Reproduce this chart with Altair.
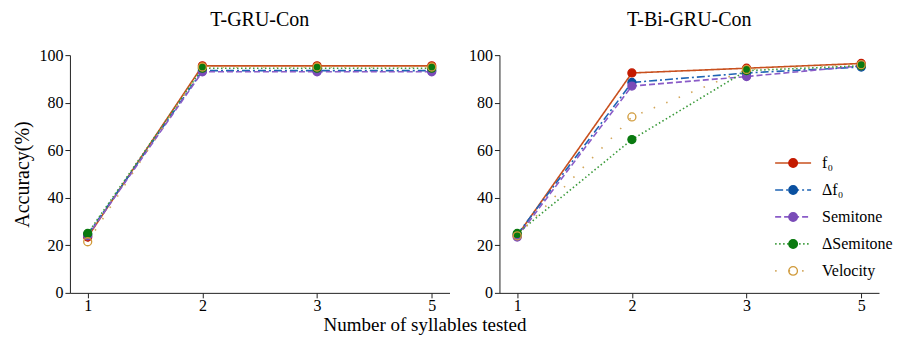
import altair as alt
import pandas as pd

series = ["f₀", "Δf₀", "Semitone", "ΔSemitone", "Velocity"]
keys = ["k0", "k1", "k2", "k3", "k4"]
syllables = ["1", "2", "3", "5"]

# T-GRU-Con
gru_f0 = [23.5, 95.5, 95.5, 95.5]
gru_df0 = [24.5, 93.5, 93.5, 93.5]
gru_semi = [24.0, 93.0, 93.0, 93.0]
gru_dsemi = [25.0, 94.5, 94.5, 94.5]
gru_vel = [21.5, 95.0, 95.0, 95.0]

# T-Bi-GRU-Con
bi_f0 = [24.0, 92.5, 94.5, 96.5]
bi_df0 = [24.5, 88.5, 92.5, 95.0]
bi_semi = [23.5, 87.0, 91.0, 95.5]
bi_dsemi = [25.0, 64.5, 93.5, 95.5]
bi_vel = [24.0, 74.0, 94.0, 96.0]

line_colors = ["#c8501e", "#1f64b4", "#8a5cc8", "#3a9a3a", "#d2a65a"]
marker_fill = ["#c41a00", "#0a50a0", "#7a4cb8", "#0a7a10", "transparent"]
marker_stroke = ["#c41a00", "#0a50a0", "#7a4cb8", "#0a7a10", "#d09a3a"]
dashes = [[1, 0], [8, 3, 2, 3], [6, 3], [1.5, 2.5], [1.5, 12]]

FONT = "Times New Roman, Liberation Serif, serif"


def make_df(values):
    rows = []
    for s, k, vals in zip(series, keys, values):
        for x, v in zip(syllables, vals):
            rows.append({"series": s, "key": k, "syll": x, "acc": v})
    return pd.DataFrame(rows)


df_gru = make_df([gru_f0, gru_df0, gru_semi, gru_dsemi, gru_vel])
df_bi = make_df([bi_f0, bi_df0, bi_semi, bi_dsemi, bi_vel])

CIRCLE = "M-0.24,0A0.24,0.24,0,1,1,0.24,0A0.24,0.24,0,1,1,-0.24,0Z"


def panel(df, title, show_ytitle, show_legend):
    base = alt.Chart(df).encode(
        x=alt.X("syll:O", sort=syllables,
                scale=alt.Scale(type="point", padding=0.155),
                axis=alt.Axis(title=None, labelAngle=0, labelPadding=0)),
        y=alt.Y("acc:Q", scale=alt.Scale(domain=[0, 100]),
                axis=alt.Axis(title="Accuracy(%)" if show_ytitle else None,
                              values=[0, 20, 40, 60, 80, 100])),
    )
    if show_legend:
        leg1 = alt.Legend(title=None, orient="none", legendX=275, legendY=89, padding=0,
                          symbolSize=1296, symbolStrokeWidth=1.7,
                          labelFont=FONT, labelFontSize=16, labelColor="black",
                          rowPadding=-11.7, labelOffset=10)
        leg2 = alt.Legend(title=None, orient="none", legendX=275, legendY=89, padding=0,
                          symbolType=CIRCLE, symbolSize=1296, symbolStrokeWidth=1.3,
                          labelFont=FONT, labelFontSize=16, labelExpr="''",
                          rowPadding=-11.7, labelOffset=10)
    else:
        leg1 = None
        leg2 = None
    lines = base.mark_line(strokeWidth=1.6).encode(
        color=alt.Color("series:N", sort=series,
                        scale=alt.Scale(domain=series, range=line_colors), legend=leg1),
        strokeDash=alt.StrokeDash("series:N", sort=series,
                                  scale=alt.Scale(domain=series, range=dashes), legend=leg1),
    )
    points = base.mark_point(filled=True, size=64, strokeWidth=1.3, opacity=1).encode(
        fill=alt.Fill("key:N", scale=alt.Scale(domain=keys, range=marker_fill), legend=leg2),
        stroke=alt.Stroke("key:N", scale=alt.Scale(domain=keys, range=marker_stroke), legend=leg2),
    )
    return alt.layer(lines, points).properties(
        width=380, height=238,
        title=alt.TitleParams(title, font=FONT, fontSize=20, fontWeight="normal",
                              color="black", offset=17),
    )


left = panel(df_gru, "T-GRU-Con", True, False)
right = panel(df_bi, "T-Bi-GRU-Con", False, True)

chart = alt.hconcat(left, right, spacing=19).resolve_scale(
    color="independent", strokeDash="independent", fill="independent", stroke="independent"
).properties(
    title=alt.TitleParams("Number of syllables tested", orient="bottom", anchor="middle",
                          font=FONT, fontSize=19, fontWeight="normal", color="black",
                          offset=2, dx=-28),
    padding={"left": 5, "top": 2, "right": 0, "bottom": 0},
).configure(font=FONT).configure_view(stroke=None).configure_axis(
    grid=False, domainColor="#222", tickColor="#222", tickSize=5,
    labelFont=FONT, labelFontSize=16, labelColor="black", labelPadding=2,
    titleFont=FONT, titleFontSize=20, titleFontWeight="normal", titleColor="black",
    titlePadding=6,
).configure_legend(labelFont=FONT)

chart.save("out.html", embed_options={"renderer": "svg", "actions": False})
